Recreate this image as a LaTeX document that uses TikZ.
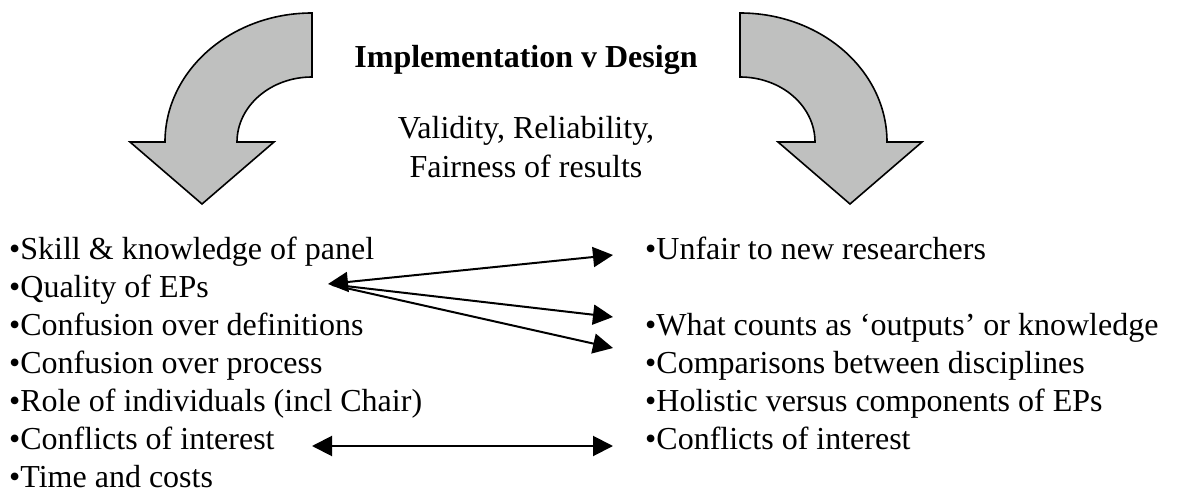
\documentclass[tikz,border=0pt]{standalone}
\usepackage{fontspec}
\setmainfont{Liberation Serif}
\usetikzlibrary{arrows.meta}
\definecolor{arrowgray}{RGB}{191,192,191}
\begin{document}
\begin{tikzpicture}[x=1pt,y=1pt,
  bigarrow/.style={fill=arrowgray,draw=black,line width=1.6pt,line join=miter},
  item/.style={anchor=base west,inner sep=0pt,font=\fontsize{32}{38}\selectfont},
  heading/.style={anchor=base,inner sep=0pt,font=\fontsize{32}{38}\selectfont\bfseries},
  subhead/.style={anchor=base,inner sep=0pt,font=\fontsize{32}{38}\selectfont},
  tip/.tip={Triangle[length=20pt,width=20pt]},
  bothways/.style={line width=2pt,tip-tip},
  oneway/.style={line width=2pt,-tip,shorten <=4pt},
]
\useasboundingbox (0,0) rectangle (1178,-492);

% curved block arrows
\draw[bigarrow] (312,-13) arc[start angle=90,end angle=180,x radius=147,y radius=129]
  -- (130,-142) -- (202,-204) -- (274,-142) -- (237,-142)
  arc[start angle=180,end angle=90,x radius=75,y radius=65] -- cycle;
\draw[bigarrow] (740,-13) arc[start angle=90,end angle=0,x radius=147,y radius=129]
  -- (922,-142) -- (850,-204) -- (778,-142) -- (815,-142)
  arc[start angle=0,end angle=90,x radius=75,y radius=65] -- cycle;

% headings
\node[heading] (title) at (526,-68) {Implementation v Design};
\node[subhead] (sub1) at (526,-139) {Validity, Reliability,};
\node[subhead] (sub2) at (526,-177) {Fairness of results};

% left list
\node[item] (skill)    at (9,-259) {•Skill \& knowledge of panel};
\node[item] (quality)  at (9,-297) {•Quality of EPs};
\node[item] (defs)     at (9,-335) {•Confusion over definitions};
\node[item] (process)  at (9,-373) {•Confusion over process};
\node[item] (role)     at (9,-411) {•Role of individuals (incl Chair)};
\node[item] (coileft)  at (9,-449) {•Conflicts of interest};
\node[item] (time)     at (9,-487) {•Time and costs};

% right list
\node[item] (unfair)   at (645,-259) {•Unfair to new researchers};
\node[item] (outputs)  at (645,-335) {•What counts as ‘outputs’ or knowledge};
\node[item] (compare)  at (645,-373) {•Comparisons between disciplines};
\node[item] (holistic) at (645,-411) {•Holistic versus components of EPs};
\node[item] (coiright) at (645,-449) {•Conflicts of interest};

% connector ends
\coordinate (hub)   at (328,-284);
\coordinate (endA)  at (613,-255);
\coordinate (endB)  at (613,-317);
\coordinate (endC)  at (613,-348);
\coordinate (coiL)  at (312,-446);
\coordinate (coiR)  at (613,-446);

\draw[bothways] (hub) -- (endA);
\draw[oneway] (hub) -- (endB);
\draw[oneway] (hub) -- (endC);
\draw[bothways] (coiL) -- (coiR);
\end{tikzpicture}
\end{document}
